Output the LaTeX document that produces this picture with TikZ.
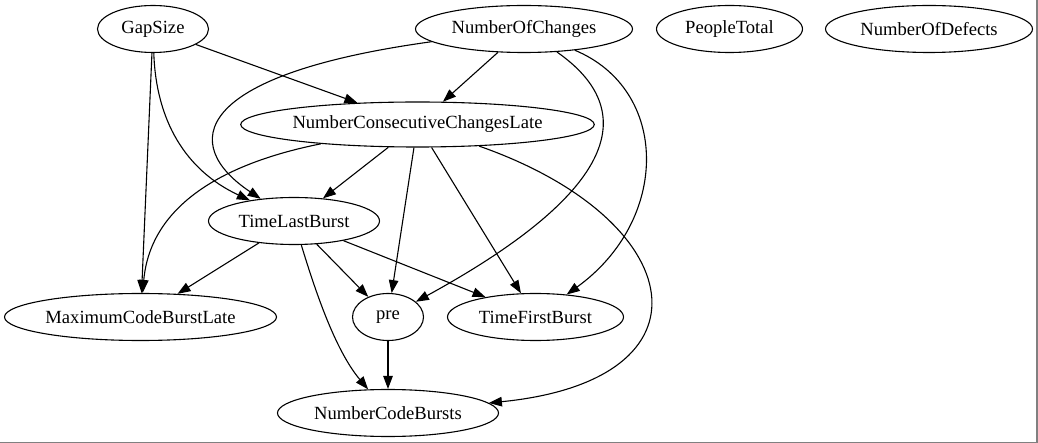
\documentclass[tikz,border=0pt]{standalone}
\usepackage{fontspec}
\setmainfont{Liberation Serif}
\usetikzlibrary{shapes.geometric,arrows.meta}
\begin{document}
\begin{tikzpicture}[x=1pt,y=-1pt,
  nd/.style={ellipse,draw,line width=1.1pt,inner sep=0pt,minimum height=47pt,font=\fontsize{18.6}{22}\selectfont},
  ed/.style={draw,line width=1.1pt,-{Triangle[length=13pt,width=9.5pt]}}]
\useasboundingbox (0,0) rectangle (1038,443);
\draw[line width=1.5pt,gray] (1037,0) -- (1037,442.5) -- (0,442.5);
\node[nd,minimum width=111pt] (gap) at (153,29) {GapSize};
\node[nd,minimum width=217pt] (noc) at (524,29) {NumberOfChanges};
\node[nd,minimum width=146pt] (pt) at (729.5,29) {PeopleTotal};
\node[nd,minimum width=207pt] (nod) at (929,29) {NumberOfDefects};
\node[nd,minimum width=352pt,minimum height=45pt] (nccl) at (417.5,124.5) {NumberConsecutiveChangesLate};
\node[nd,minimum width=171pt] (tlb) at (294,221) {TimeLastBurst};
\node[nd,minimum width=272pt] (mcbl) at (140.5,317) {MaximumCodeBurstLate};
\node[nd,minimum width=71pt] (pre) at (388,317) {pre};
\node[nd,minimum width=176pt] (tfb) at (535.5,317) {TimeFirstBurst};
\node[nd,minimum width=221pt] (ncb) at (388,413) {NumberCodeBursts};
\path[ed] (gap) -- (nccl);
\path[ed] (gap) -- (mcbl);
\path[ed] (gap) .. controls (156,120) and (185,170) .. (tlb);
\path[ed] (noc) -- (nccl);
\path[ed] (noc) .. controls (190,75) and (180,145) .. (tlb);
\path[ed] (noc) .. controls (640,110) and (620,190) .. (pre);
\path[ed] (noc) .. controls (670,90) and (670,220) .. (tfb);
\path[ed] (nccl) -- (tlb);
\path[ed] (nccl) .. controls (215,165) and (150,210) .. (mcbl);
\path[ed] (nccl) -- (pre);
\path[ed] (nccl) -- (tfb);
\path[ed] (nccl) .. controls (690,220) and (720,380) .. (ncb);
\path[ed] (tlb) -- (mcbl);
\path[ed] (tlb) -- (pre);
\path[ed] (tlb) -- (tfb);
\path[ed] (tlb) .. controls (315,290) and (335,350) .. (ncb);
\path[ed] (pre) -- (ncb);
\end{tikzpicture}
\end{document}
